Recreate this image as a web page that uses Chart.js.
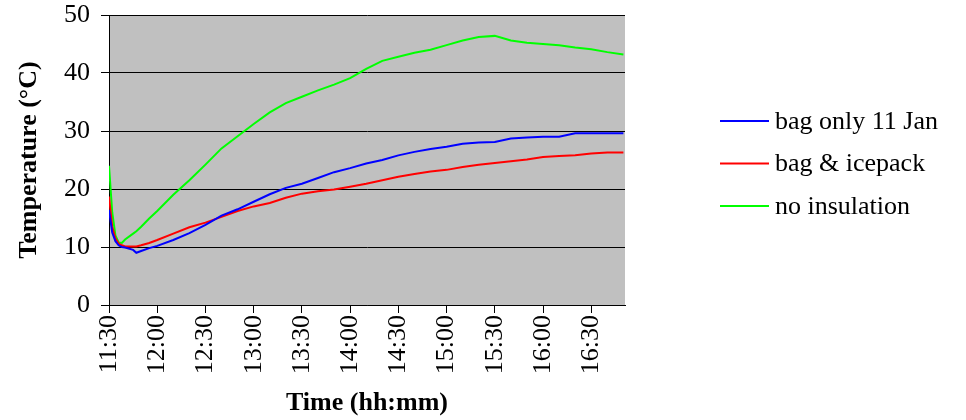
<!DOCTYPE html>
<html>
<head>
<meta charset="utf-8">
<script src="https://cdn.jsdelivr.net/npm/chart.js@4"></script>
<style>
  html, body { margin: 0; padding: 0; background: #fff; }
  canvas { display: block; }
</style>
</head>
<body>
<canvas id="tempChart" width="966" height="420"></canvas>
<script>
const startTime = "11:30";
const tickLabels = ["11:30", "12:00", "12:30", "13:00", "13:30", "14:00", "14:30", "15:00", "15:30", "16:00", "16:30"];
const endTime = "16:51";

// minutes after 11:30
const sampleMinutes = [0, 2, 4, 6, 8, 10, 15, 17, 20, 25, 30, 40, 50, 60, 70, 80, 90, 100, 110, 120,
  130, 140, 150, 160, 170, 180, 190, 200, 210, 220, 230, 240, 250, 260, 270, 280, 290, 300, 310, 320];

const seriesNames = ["bag only 11 Jan", "bag & icepack", "no insulation"];
const seriesColors = ["#0000FF", "#FF0000", "#00FF00"];

const bagOnly = [16.4, 12.5, 11.0, 10.3, 10.0, 9.9, 9.5, 9.0, 9.3, 9.8, 10.2, 11.2, 12.4, 13.8, 15.4, 16.5,
  17.8, 19.1, 20.2, 20.9, 21.9, 22.9, 23.6, 24.4, 25.0, 25.8, 26.4, 26.9, 27.3, 27.8, 28.0, 28.1, 28.7,
  28.9, 29.0, 29.0, 29.6, 29.6, 29.6, 29.6];
const bagIcepack = [18.7, 13.5, 11.5, 10.6, 10.3, 10.1, 10.1, 10.1, 10.3, 10.7, 11.2, 12.3, 13.4, 14.2,
  15.2, 16.2, 17.0, 17.6, 18.5, 19.2, 19.6, 19.9, 20.4, 20.9, 21.5, 22.1, 22.6, 23.0, 23.3, 23.8, 24.2,
  24.5, 24.8, 25.1, 25.5, 25.7, 25.8, 26.1, 26.3, 26.3];
const noInsulation = [24.0, 16.0, 12.0, 10.8, 10.7, 11.3, 12.3, 12.7, 13.5, 14.9, 16.2, 19.0, 21.5, 24.2,
  27.0, 29.1, 31.2, 33.2, 34.8, 35.9, 37.0, 38.0, 39.1, 40.7, 42.1, 42.8, 43.5, 44.0, 44.8, 45.6, 46.2,
  46.4, 45.6, 45.2, 45.0, 44.8, 44.4, 44.1, 43.6, 43.2];

const serif = "'Liberation Serif', 'Times New Roman', serif";

function toMin(s) {
  const p = s.split(":");
  return +p[0] * 60 + +p[1];
}
function fmt(m) {
  const h = Math.floor(m / 60), mm = Math.round(m % 60);
  return h + ":" + (mm < 10 ? "0" : "") + mm;
}

const t0 = toMin(startTime);
const allSeries = [bagOnly, bagIcepack, noInsulation];

const plotBg = {
  id: "plotBg",
  beforeDraw(chart) {
    const { ctx, chartArea: a } = chart;
    ctx.save();
    ctx.fillStyle = "#C0C0C0";
    ctx.fillRect(a.left, a.top, a.right - a.left, a.bottom - a.top);
    ctx.restore();
  },
};

// legend drawn to the right of the plot like the Excel original
const sideLegend = {
  id: "sideLegend",
  afterDraw(chart) {
    const ctx = chart.ctx;
    ctx.save();
    ctx.font = "26px " + serif;
    ctx.textBaseline = "middle";
    chart.data.datasets.forEach((ds, i) => {
      const y = 121 + i * 42.5;
      ctx.strokeStyle = ds.borderColor;
      ctx.lineWidth = 2;
      ctx.beginPath();
      ctx.moveTo(720, y);
      ctx.lineTo(769, y);
      ctx.stroke();
      ctx.fillStyle = "#000";
      ctx.fillText(ds.label, 775, y + 1);
    });
    ctx.restore();
  },
};

new Chart(document.getElementById("tempChart"), {
  type: "line",
  data: {
    datasets: allSeries.map((vals, i) => ({
      label: seriesNames[i],
      data: vals.map((v, j) => ({ x: t0 + sampleMinutes[j], y: v })),
      borderColor: seriesColors[i],
      backgroundColor: seriesColors[i],
      borderWidth: 2,
      pointRadius: 0,
      tension: 0,
    })),
  },
  options: {
    responsive: false,
    animation: false,
    layout: { padding: { top: 15, right: 341, left: 0, bottom: 0 } },
    plugins: {
      legend: { display: false },
      tooltip: { enabled: false },
    },
    scales: {
      x: {
        type: "linear",
        min: t0,
        max: toMin(endTime),
        afterFit(scale) {
          scale.height = 115;
          scale.paddingLeft = 0;
          scale.paddingRight = 0;
        },
        afterBuildTicks(scale) {
          scale.ticks = tickLabels.map((l) => ({ value: toMin(l) }));
        },
        ticks: {
          minRotation: 90,
          maxRotation: 90,
          padding: 2,
          color: "#000",
          font: { family: serif, size: 26 },
          callback: (v) => fmt(v),
        },
        grid: { drawOnChartArea: false, drawTicks: true, tickLength: 8, color: "#000" },
        border: { display: true, color: "#000" },
        title: {
          display: true,
          text: "Time (hh:mm)",
          color: "#000",
          font: { family: serif, size: 26, weight: "bold" },
          padding: { top: 0, bottom: 1 },
        },
      },
      y: {
        min: 0,
        max: 50,
        afterFit(scale) {
          scale.width = 109;
          scale.paddingTop = 0;
          scale.paddingBottom = 0;
        },
        ticks: {
          stepSize: 10,
          padding: 11,
          color: "#000",
          font: { family: serif, size: 26 },
        },
        grid: { color: "#000", lineWidth: 1, drawTicks: true, tickLength: 8 },
        border: { display: true, color: "#000" },
        title: {
          display: true,
          text: "Temperature (°C)",
          color: "#000",
          font: { family: serif, size: 26, weight: "bold" },
          padding: { top: 14, bottom: 0 },
        },
      },
    },
  },
  plugins: [plotBg, sideLegend],
});
</script>
</body>
</html>
